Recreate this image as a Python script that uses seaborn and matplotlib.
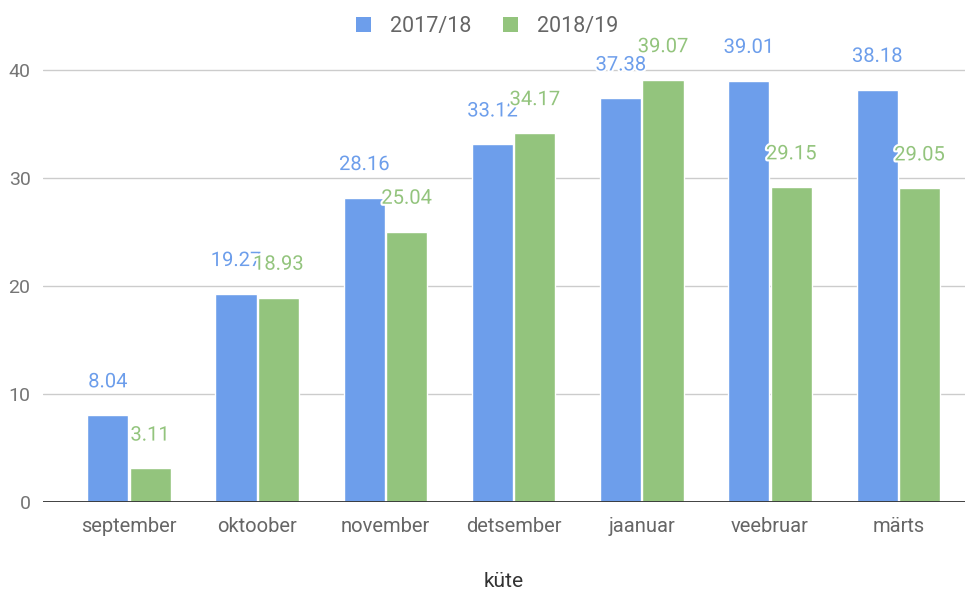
import matplotlib
matplotlib.use("Agg")
import matplotlib.pyplot as plt
import matplotlib.patheffects as pe
from matplotlib.patches import Patch
import seaborn as sns
import pandas as pd

months = ["september", "oktoober", "november", "detsember", "jaanuar", "veebruar", "märts"]
series_names = ["2017/18", "2018/19"]
values_1718 = [8.04, 19.27, 28.16, 33.12, 37.38, 39.01, 38.18]
values_1819 = [3.11, 18.93, 25.04, 34.17, 39.07, 29.15, 29.05]
yticks = [0, 10, 20, 30, 40]
colors = ["#6d9eeb", "#93c47d"]

df = pd.DataFrame({
    "month": months * 2,
    "season": [series_names[0]] * len(months) + [series_names[1]] * len(months),
    "value": values_1718 + values_1819,
})

sns.set_theme(style="white")
plt.rcParams["font.family"] = ["Roboto", "DejaVu Sans"]

fig = plt.figure(figsize=(9.74, 5.92), dpi=100)
ax = fig.add_axes([43 / 974, 1 - 502 / 592, (965 - 43) / 974, (502 - 70) / 592 * 42 / 40])

sns.barplot(data=df, x="month", y="value", hue="season", order=months,
            hue_order=series_names, palette=colors, width=0.66, ax=ax,
            saturation=1, legend=False, gap=0.03)

ax.set_ylim(0, 42)
ax.set_xlim(-0.67, 6.52)
ax.set_yticks(yticks)
ax.yaxis.grid(True, color="#cccccc", linewidth=1)
ax.set_axisbelow(True)
for s in ax.spines.values():
    s.set_visible(False)
ax.axhline(0, color="#333333", linewidth=1.3, zorder=3)
ax.tick_params(axis="y", length=0, pad=9, labelsize=14, labelcolor="#757575")
ax.tick_params(axis="x", length=0, pad=11, labelsize=14.5, labelcolor="#666666")
ax.set_ylabel("")
ax.set_xlabel("küte", fontsize=15, color="#333333", labelpad=26)

for container, col in zip(ax.containers, colors):
    for bar in container:
        h = bar.get_height()
        ax.annotate(f"{h:.2f}", (bar.get_x() + bar.get_width() / 2, h),
                    xytext=(0, 24), textcoords="offset points",
                    ha="center", va="center", fontsize=14.5, color=col,
                    path_effects=[pe.withStroke(linewidth=3, foreground="white")],
                    annotation_clip=False, zorder=5)

handles = [Patch(facecolor=c, edgecolor="none") for c in colors]
fig.legend(handles, series_names, loc="upper center", bbox_to_anchor=(0.5, 1.005),
           ncol=2, frameon=False, fontsize=15.5, handlelength=0.7, handleheight=0.7,
           columnspacing=1.5, handletextpad=0.85, labelcolor="#666666")

fig.savefig("out.png", dpi=100)
